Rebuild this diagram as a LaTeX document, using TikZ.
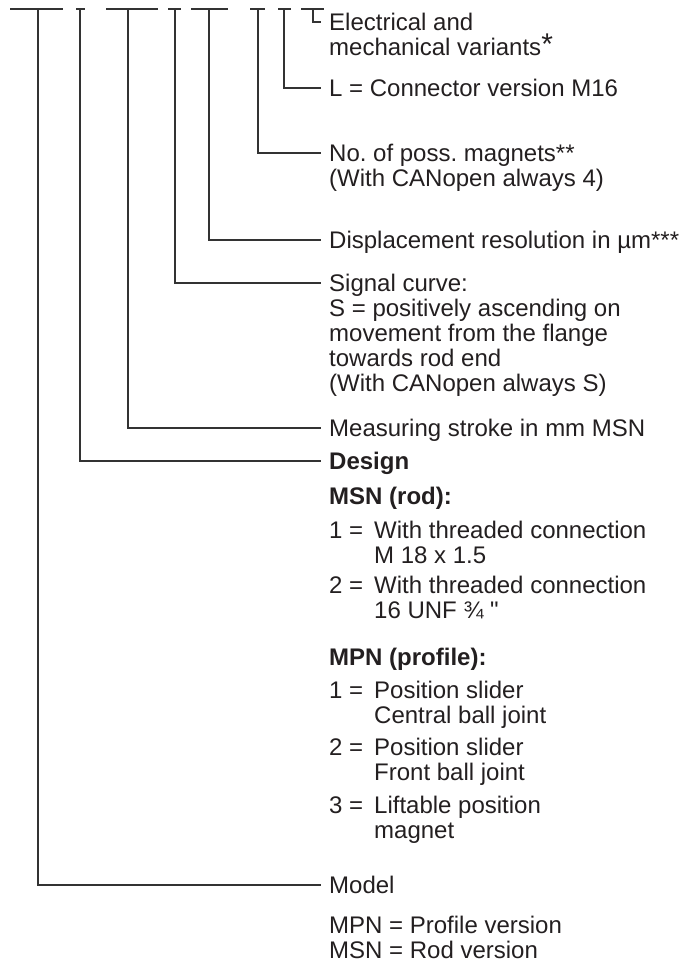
\documentclass[tikz,border=0pt]{standalone}
\usepackage{fontspec}
\setmainfont{Liberation Sans}[Ligatures=TeXOff]
\definecolor{ink}{HTML}{231F20}
\newcommand{\lblfont}{\fontsize{24}{25}\selectfont}
\newcommand{\numlbl}[1]{\makebox[45pt][l]{#1}}
\newcommand{\numgap}{\hspace*{45pt}}
\frenchspacing
\begin{document}
\begin{tikzpicture}[
    x=1pt, y=-1pt,
    lead/.style={draw=black!80, line width=1.3pt},
    lbl/.style={anchor=north west, inner sep=0pt, align=left, font=\lblfont, text=ink,
      execute at begin node=\strut},
  ]
  \useasboundingbox (0,0) rectangle (683,965);
  % type code bars
  \draw[lead] (10,9) -- (63,9);
  \draw[lead] (76,9) -- (85,9);
  \draw[lead] (106,9) -- (158,9);
  \draw[lead] (168,9) -- (181,9);
  \draw[lead] (191,9) -- (228,9);
  \draw[lead] (250,9) -- (265,9);
  \draw[lead] (278,9) -- (291,9);
  \draw[lead] (301,9) -- (324,9);
  \coordinate (t1) at (38,9);
  \coordinate (t2) at (80,9);
  \coordinate (t3) at (128,9);
  \coordinate (t4) at (175,9);
  \coordinate (t5) at (209,9);
  \coordinate (t6) at (258,9);
  \coordinate (t7) at (284,9);
  \coordinate (t8) at (313,9);
  % labels
  \node[lbl] (variant) at (329,13.1) {Electrical and\\mechanical variants\raisebox{1pt}{\fontsize{30}{25}\selectfont*}};
  \node[lbl] (plug) at (329,79.1) {L = Connector version M16};
  \node[lbl] (magnets) at (329,144.1) {No. of poss. magnets**\\(With CANopen always 4)};
  \node[lbl] (resol) at (329,231.1) {Displacement resolution in µm***};
  \node[lbl] (curve) at (329,274.1) {Signal curve:\\S = positively ascending on\\movement from the flange\\towards rod end\\(With CANopen always S)};
  \node[lbl] (stroke) at (329,419.1) {Measuring stroke in mm MSN};
  \node[lbl] (design) at (329,452.1) {\bfseries Design};
  \node[lbl] (rod) at (329,487.1) {\bfseries MSN (rod):};
  \node[lbl] (rod1) at (329,521.1) {\numlbl{1 =}With threaded connection\\\numgap M 18 x 1.5};
  \node[lbl] (rod2) at (329,576.1) {\numlbl{2 =}With threaded connection\\\numgap 16 UNF ¾ "};
  \node[lbl] (prof) at (329,648.1) {\bfseries MPN (profile):};
  \node[lbl] (prof1) at (329,681.1) {\numlbl{1 =}Position slider\\\numgap Central ball joint};
  \node[lbl] (prof2) at (329,738.1) {\numlbl{2 =}Position slider\\\numgap Front ball joint};
  \node[lbl] (prof3) at (329,796.1) {\numlbl{3 =}Liftable position\\\numgap magnet};
  \node[lbl] (model) at (329,876.1) {Model};
  \node[lbl] (modelkey) at (329,916.1) {MPN = Profile version\\MSN = Rod version};
  % leaders
  \draw[lead] (t8) |- ([shift={(-8pt,-8.9pt)}]variant.north west);
  \draw[lead] (t7) |- ([shift={(-8pt,-8.9pt)}]plug.north west);
  \draw[lead] (t6) |- ([shift={(-8pt,-8.9pt)}]magnets.north west);
  \draw[lead] (t5) |- ([shift={(-8pt,-8.9pt)}]resol.north west);
  \draw[lead] (t4) |- ([shift={(-8pt,-8.9pt)}]curve.north west);
  \draw[lead] (t3) |- ([shift={(-8pt,-8.9pt)}]stroke.north west);
  \draw[lead] (t2) |- ([shift={(-8pt,-8.9pt)}]design.north west);
  \draw[lead] (t1) |- ([shift={(-8pt,-8.9pt)}]model.north west);
\end{tikzpicture}
\end{document}
